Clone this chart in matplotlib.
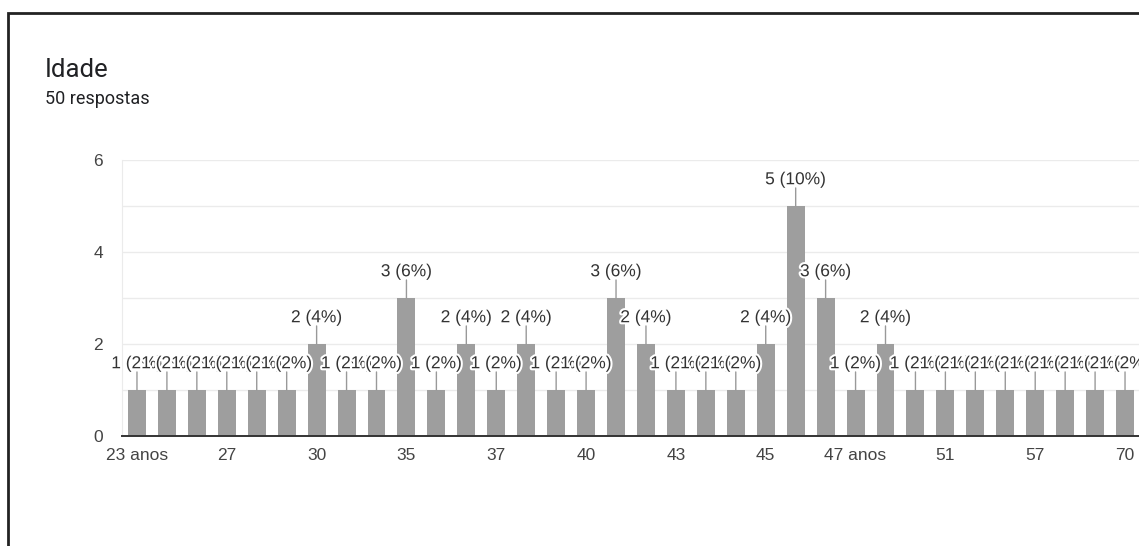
import matplotlib.pyplot as plt
import matplotlib.patheffects as pe
from matplotlib.patches import Rectangle

# respostas por idade (ordem do formulário)
idades = ["23 anos", "24", "25", "27", "28", "29", "30", "31", "33", "35",
          "36", "36 anos", "37", "38", "39", "40", "41", "42", "43", "44",
          "44 anos", "45", "46", "46 anos", "47 anos", "48", "49", "51", "52",
          "53", "57", "60", "65", "70"]
contagens = [1, 1, 1, 1, 1, 1, 2, 1, 1, 3,
             1, 2, 1, 2, 1, 1, 3, 2, 1, 1,
             1, 2, 5, 3, 1, 2, 1, 1, 1, 1,
             1, 1, 1, 1]
total = 50

W, H = 1139, 546
fig = plt.figure(figsize=(W / 100, H / 100), dpi=100)
fig.patch.set_facecolor('white')

# moldura do cartão
fig.patches.append(Rectangle((8 / W, -0.2), 2.0, 1 - 13 / H + 0.2,
                             transform=fig.transFigure, fill=False,
                             edgecolor='#222222', linewidth=2))

fig.text(45 / W, 1 - 77 / H, 'Idade', fontsize=18.5, family='Roboto',
         color='#202124', va='baseline')
fig.text(45 / W, 1 - 104 / H, '50 respostas', fontsize=13, family='Roboto',
         color='#202124', va='baseline')

ax = fig.add_axes([122 / W, 1 - 436 / H, 1018 / W, 276 / H])
x = list(range(len(idades)))
ax.bar(x, contagens, width=0.6, color='#9e9e9e', zorder=2)

ax.set_xlim(-0.5, len(idades) - 0.5)
ax.set_ylim(0, 6)
ax.set_yticks(range(7))
ax.set_yticklabels([str(v) if v % 2 == 0 else '' for v in range(7)])
ax.set_xticks(x[::3])
ax.set_xticklabels(idades[::3])
ax.tick_params(length=0, labelsize=12.5, labelcolor='#444444')
ax.tick_params(axis='y', pad=13.5)
ax.tick_params(axis='x', pad=9)
for lbl in ax.get_xticklabels() + ax.get_yticklabels():
    lbl.set_family('Liberation Sans')

ax.grid(axis='y', color='#ebebeb', linewidth=1, zorder=0)
for s in ['top', 'right']:
    ax.spines[s].set_visible(False)
ax.spines['left'].set_color('#ebebeb')
ax.spines['bottom'].set_color('#333333')
ax.spines['bottom'].set_linewidth(1.4)
ax.spines['bottom'].set_zorder(3)

# rótulos com linha de chamada
halo = [pe.withStroke(linewidth=3, foreground='white')]
for i, v in zip(x, contagens):
    ax.annotate('', xy=(i, v), xytext=(0, 13), textcoords='offset points',
                arrowprops=dict(arrowstyle='-', color='#999999', lw=1,
                                shrinkA=0, shrinkB=0), zorder=3)
    ax.annotate(f'{v} ({v * 100 // total}%)', xy=(i, v), xytext=(0, 13.5),
                textcoords='offset points', ha='center', va='bottom',
                fontsize=12.5, family='Liberation Sans', color='#333333',
                path_effects=halo, zorder=4, annotation_clip=False)

fig.savefig('out.png', dpi=100)
